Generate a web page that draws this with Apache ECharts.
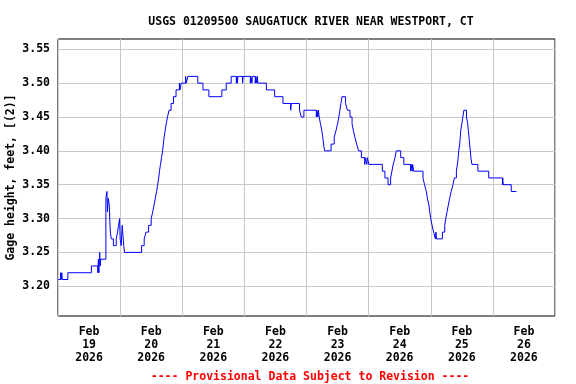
<!DOCTYPE html>
<html><head><meta charset="utf-8">
<script src="https://cdn.jsdelivr.net/npm/echarts@6/dist/echarts.min.js"></script>
<style>html,body{margin:0;padding:0;background:#fff}#c{width:576px;height:384px}</style>
</head><body><div id="c"></div>
<script>
// hours since 2026-02-19 00:00 (time each new reading level begins)
const hours = [0.1,1.0,1.2,1.5,1.6,3.8,12.9,15.4,15.6,15.8,16.1,16.3,16.5,
18.5,18.9,19.1,19.4,19.8,20.2,20.6,21.4,22.5,23.0,23.4,23.8,24.0,24.4,24.8,25.2,25.4,25.7,
32.3,33.3,34.0,35.0,36.0,36.6,37.1,37.6,38.1,38.5,38.9,39.2,39.6,40.0,40.4,40.7,41.0,41.4,41.8,42.3,42.9,43.7,44.6,45.6,46.9,47.1,47.6,49.3,49.5,50.2,
54.0,56.0,58.3,63.3,65.0,66.9,
68.9,69.1,69.3,69.5,71.3,71.5,74.3,74.5,74.9,75.1,76.2,76.4,76.8,77.0,
77.2,80.5,83.7,86.9,89.9,90.1,93.3,94.0,95.0,
99.8,100.0,100.4,100.6,100.9,101.4,101.9,102.3,102.6,103.0,
105.5,106.7,107.4,108.0,108.5,108.9,109.3,109.7,111.1,111.8,112.8,113.6,114.1,114.7,115.4,116.1,117.2,
118.5,118.7,119.3,119.5,120.1,
125.3,126.3,127.5,128.5,129.0,129.5,130.2,130.7,132.4,133.6,
136.2,136.4,136.8,137.0,137.4,
141.0,141.6,142.3,142.7,143.3,143.6,144.0,144.5,145.1,145.8,146.0,146.2,
148.5,149.4,149.8,150.3,150.8,151.3,151.9,152.6,153.1,153.9,154.3,154.6,154.8,155.2,155.4,155.6,156.0,156.4,156.8,
157.8,158.3,158.5,158.8,159.0,159.3,159.5,159.9,
162.2,166.4,171.7,171.8,172.0,175.1,177.1];
// gage height, feet
const levels = [3.21,3.22,3.21,3.22,3.21,3.22,3.23,3.22,3.24,3.22,3.25,3.23,3.24,
3.33,3.34,3.31,3.33,3.32,3.28,3.27,3.26,3.27,3.28,3.29,3.30,3.27,3.26,3.29,3.27,3.26,3.25,
3.26,3.27,3.28,3.29,3.30,3.31,3.32,3.33,3.34,3.35,3.36,3.37,3.38,3.39,3.40,3.41,3.42,3.43,3.44,3.45,3.46,3.47,3.48,3.49,3.50,3.49,3.50,3.51,3.50,3.51,
3.50,3.49,3.48,3.49,3.50,3.51,
3.50,3.51,3.50,3.51,3.50,3.51,3.50,3.51,3.50,3.51,3.50,3.51,3.50,3.51,
3.50,3.49,3.48,3.47,3.46,3.47,3.46,3.45,3.46,
3.45,3.46,3.45,3.46,3.45,3.44,3.43,3.42,3.41,3.40,
3.41,3.42,3.43,3.44,3.45,3.46,3.47,3.48,3.47,3.46,3.45,3.44,3.43,3.42,3.41,3.40,3.39,
3.38,3.39,3.38,3.39,3.38,
3.37,3.36,3.35,3.36,3.37,3.38,3.39,3.40,3.39,3.38,
3.37,3.38,3.37,3.38,3.37,
3.36,3.35,3.34,3.33,3.32,3.31,3.30,3.29,3.28,3.27,3.28,3.27,
3.28,3.29,3.30,3.31,3.32,3.33,3.34,3.35,3.36,3.37,3.38,3.39,3.40,3.41,3.42,3.43,3.44,3.45,3.46,
3.45,3.44,3.43,3.42,3.41,3.40,3.39,3.38,
3.37,3.36,3.35,3.36,3.35,3.34,3.34];
const dayTickHours = [12,36,60,84,108,132,156,180];
const dayLabels = ['Feb\n19\n2026','Feb\n20\n2026','Feb\n21\n2026','Feb\n22\n2026','Feb\n23\n2026','Feb\n24\n2026','Feb\n25\n2026','Feb\n26\n2026'];
const yTicks = [3.20,3.25,3.30,3.35,3.40,3.45,3.50,3.55];
const titleText = 'USGS 01209500 SAUGATUCK RIVER NEAR WESTPORT, CT';
const footerText = '---- Provisional Data Subject to Revision ----';
const yName = 'Gage height, feet, [(2)]';

const F = 'DejaVu Sans Mono';
const FS = 11.5;
const chart = echarts.init(document.getElementById('c'), null, {renderer:'canvas'});
chart.setOption({
  animation:false,
  backgroundColor:'#fff',
  title:[
    {text:titleText,left:306,top:11,textAlign:'center',textStyle:{fontFamily:F,fontSize:FS,fontWeight:'bold',color:'#000'}},
    {text:footerText,left:305,top:366,textAlign:'center',textStyle:{fontFamily:F,fontSize:FS,fontWeight:'bold',color:'#ff0000'}}
  ],
  grid:{left:58,top:39,right:21,bottom:68,show:true,borderColor:'#000',borderWidth:1,backgroundColor:'#fff',outerBoundsMode:'none',containLabel:false},
  xAxis:{type:'value',min:0,max:192,interval:24,
    axisLine:{show:false},axisTick:{show:false},
    splitLine:{show:true,lineStyle:{color:'#c8c8c8',width:1}},
    axisLabel:{customValues:dayTickHours,margin:10,lineHeight:13,fontFamily:F,fontSize:FS,fontWeight:'bold',color:'#000',
      formatter:(v)=>dayLabels[dayTickHours.indexOf(v)] || ''}
  },
  yAxis:{type:'value',min:3.1561,max:3.5652,
    name:yName,nameLocation:'middle',nameGap:41,nameMoveOverlap:false,
    nameTextStyle:{fontFamily:F,fontSize:FS,fontWeight:'bold',color:'#000'},
    axisLine:{show:false},
    axisTick:{show:false,customValues:yTicks},
    splitLine:{show:true,lineStyle:{color:'#c8c8c8',width:1}},
    axisLabel:{customValues:yTicks,margin:8,fontFamily:F,fontSize:FS,fontWeight:'bold',color:'#000',formatter:(v)=>v.toFixed(2)}
  },
  series:[{type:'line',step:'end',showSymbol:false,data:hours.map((h,i)=>[h,levels[i]]),
    lineStyle:{color:'#0000ff',width:1},itemStyle:{color:'#0000ff'}}]
});
</script>
</body></html>
